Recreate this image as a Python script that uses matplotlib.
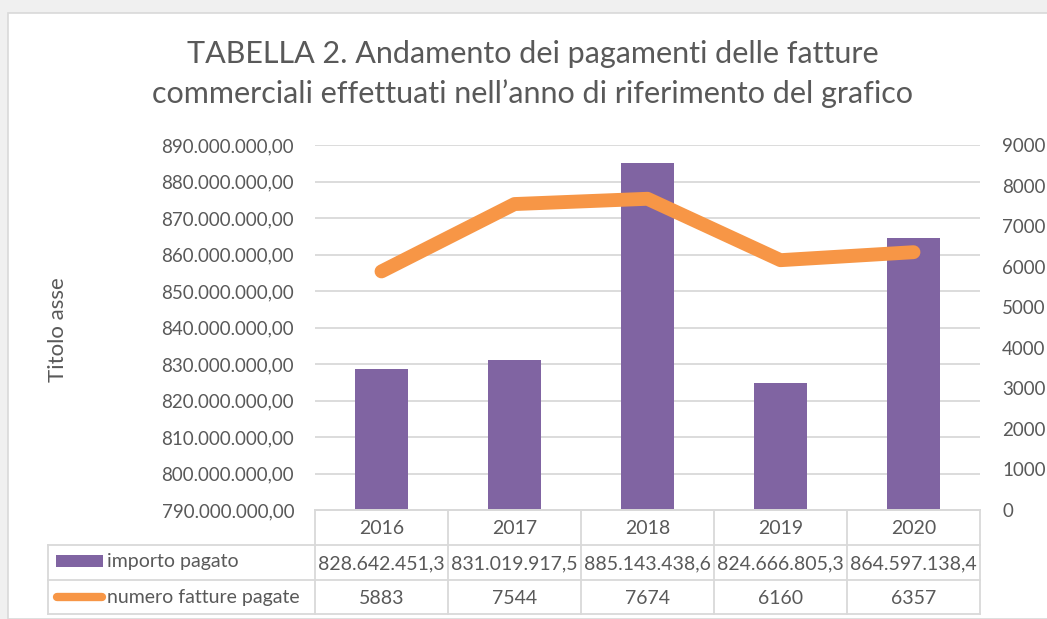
import matplotlib
matplotlib.use('Agg')
import matplotlib.pyplot as plt
from matplotlib.patches import Rectangle
from matplotlib.lines import Line2D
from matplotlib.ticker import FuncFormatter

# Data
years = ['2016', '2017', '2018', '2019', '2020']
importo_pagato = [828642451.3, 831019917.5, 885143438.6, 824666805.3, 864597138.4]
fatture_pagate = [5883, 7544, 7674, 6160, 6357]
importo_labels = ['828.642.451,3', '831.019.917,5', '885.143.438,6', '824.666.805,3', '864.597.138,4']
series_names = ['importo pagato', 'numero fatture pagate']
title = "TABELLA 2. Andamento dei pagamenti delle fatture\ncommerciali effettuati nell\u2019anno di riferimento del grafico"

PURPLE = '#8064A2'
ORANGE = '#F79646'
GRID = '#D9D9D9'
TEXT = '#595959'
FS = 14

plt.rcParams['font.family'] = ['Lato', 'DejaVu Sans']

W, H = 1047, 619
fig = plt.figure(figsize=(W / 100, H / 100), dpi=100, facecolor='#F0F0F0')


def fx(px):
    return px / W


def fy(py):
    return 1 - py / H


# white chart area
fig.patches.append(Rectangle((fx(8), 0), 1, fy(13), transform=fig.transFigure,
                             facecolor='white', edgecolor='#D9D9D9', lw=1.2, zorder=-5))

left, right, top, bottom = 315, 980, 145, 510
ax = fig.add_axes([fx(left), fy(bottom), fx(right - left), (bottom - top) / H])
ax.set_facecolor('none')

x = list(range(len(years)))
ax.bar(x, importo_pagato, width=0.4, color=PURPLE, zorder=2)
ax.set_xlim(-0.5, len(years) - 0.5)
ax.set_ylim(790e6, 890e6)
ax.set_yticks([790e6 + i * 10e6 for i in range(11)])
ax.yaxis.set_major_formatter(FuncFormatter(
    lambda v, p: f"{v:,.2f}".replace(',', 'X').replace('.', ',').replace('X', '.')))
ax.grid(axis='y', color=GRID, lw=1.3, zorder=0)
ax.tick_params(axis='y', length=0, pad=15, labelsize=13.5, labelcolor=TEXT)
ax.set_xticks([])
for s in ['top', 'right', 'left']:
    ax.spines[s].set_visible(False)
ax.spines['bottom'].set_color(GRID)
ax.spines['bottom'].set_linewidth(1.3)
ax.set_axisbelow(True)

ax2 = ax.twinx()
ax2.plot(x, fatture_pagate, color=ORANGE, lw=10, solid_capstyle='round',
         solid_joinstyle='round', zorder=3)
ax2.set_ylim(0, 9000)
ax2.set_yticks(range(0, 9001, 1000))
ax2.tick_params(axis='y', length=0, pad=16, labelsize=13.5, labelcolor=TEXT)
for s in ax2.spines.values():
    s.set_visible(False)
for lbl in ax2.get_yticklabels():
    lbl.set_horizontalalignment('left')

fig.text(fx(58), fy(330), 'Titolo asse', rotation=90, ha='center', va='center',
         fontsize=16, color=TEXT)
fig.text(fx(533), fy(74), title, ha='center', va='center', fontsize=22,
         color=TEXT, linespacing=1.45)

# data table below the plot
row_h = 35
rows_y = [bottom, bottom + row_h, bottom + 2 * row_h, bottom + 3 * row_h - 1]
tbl_left = 48
col_w = (right - left) / len(years)
lw_t = 1.3
# horizontal lines
fig.add_artist(Line2D([fx(left), fx(right)], [fy(rows_y[0])] * 2, color=GRID, lw=lw_t))
for yy in rows_y[1:]:
    fig.add_artist(Line2D([fx(tbl_left), fx(right)], [fy(yy)] * 2, color=GRID, lw=lw_t))
# vertical lines
for i in range(len(years) + 1):
    xx = left + i * col_w
    fig.add_artist(Line2D([fx(xx)] * 2, [fy(rows_y[0]), fy(rows_y[3])], color=GRID, lw=lw_t))
fig.add_artist(Line2D([fx(tbl_left)] * 2, [fy(rows_y[1]), fy(rows_y[3])], color=GRID, lw=lw_t))

for i, yr in enumerate(years):
    cx = left + (i + 0.5) * col_w
    fig.text(fx(cx), fy(rows_y[0] + row_h / 2 + 1), yr, ha='center', va='center',
             fontsize=FS, color=TEXT)
    fig.text(fx(cx), fy(rows_y[1] + row_h / 2 + 1), importo_labels[i], ha='center',
             va='center', fontsize=FS, color=TEXT)
    fig.text(fx(cx), fy(rows_y[2] + row_h / 2 + 1), str(fatture_pagate[i]), ha='center',
             va='center', fontsize=FS, color=TEXT)

# legend keys in the table
fig.patches.append(Rectangle((fx(56), fy(567)), fx(103) - fx(56), (567 - 555) / H,
                             transform=fig.transFigure, facecolor=PURPLE, edgecolor='none'))
fig.add_artist(Line2D([fx(57), fx(102)], [fy(597)] * 2, color=ORANGE, lw=6,
                      solid_capstyle='round'))
fig.text(fx(107), fy(562), series_names[0], ha='left', va='center', fontsize=FS, color=TEXT)
fig.text(fx(107), fy(597), series_names[1], ha='left', va='center', fontsize=FS, color=TEXT)

fig.savefig('out.png', dpi=100, facecolor=fig.get_facecolor())
